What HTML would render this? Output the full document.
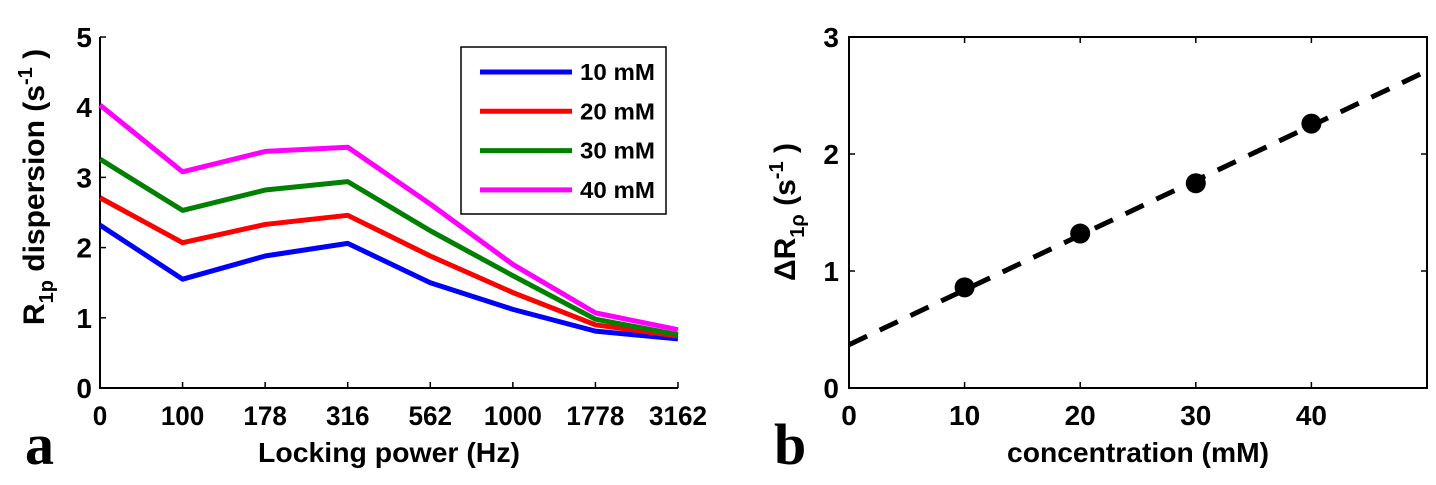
<!DOCTYPE html>
<html><head><meta charset="utf-8"><style>
html,body{margin:0;padding:0;background:#fff;width:1436px;height:485px;overflow:hidden}
svg text{font-family:"Liberation Sans",Arial,sans-serif;fill:#000}
</style></head><body>
<svg id="fig" width="1436" height="485" xmlns="http://www.w3.org/2000/svg">
<g id="pa"></g>
<g id="pb"></g>
</svg>
<script>
const catsA = ["0","100","178","316","562","1000","1778","3162"];
const s10 = [2.32,1.55,1.88,2.06,1.50,1.12,0.81,0.70];
const s20 = [2.71,2.07,2.33,2.46,1.88,1.36,0.90,0.74];
const s30 = [3.26,2.53,2.82,2.94,2.24,1.60,0.98,0.76];
const s40 = [4.03,3.08,3.37,3.43,2.62,1.76,1.07,0.83];
const seriesNames = ["10 mM","20 mM","30 mM","40 mM"];
const seriesColors = ["#0000ff","#ff0000","#008000","#ff00ff"];
const yTicksA = [0,1,2,3,4,5];
const concB = [10,20,30,40];
const dR = [0.86,1.32,1.75,2.26];
const fitX = [0,50];
const fitY = [0.37,2.71];
const xTicksB = [0,10,20,30,40];
const yTicksB = [0,1,2,3];

const NS="http://www.w3.org/2000/svg";
function mk(p,tag,at,txt){const e=document.createElementNS(NS,tag);for(const k in at)e.setAttribute(k,at[k]);if(txt!==undefined)e.textContent=txt;p.appendChild(e);return e;}

// Panel A
const pa=document.getElementById('pa');
const axL=100,axR=678,axB=388,axT=37;
const xa=i=>axL+i*(axR-axL)/(catsA.length-1);
const ya=v=>axB-v*(axB-axT)/5;
let e;
e=mk(pa,'path',{d:`M${axL},${axT}V${axB}H${axR}`,stroke:'#000','stroke-width':2,fill:'none'});


yTicksA.forEach(v=>{
 e=mk(pa,'line',{x1:axL,x2:axL+6,y1:ya(v),y2:ya(v),stroke:'#000','stroke-width':1.5});
 
 
 e=mk(pa,'text',{x:axL-8,y:ya(v)+10,'text-anchor':'end','font-size':28,'font-weight':'bold'},String(v));
 
 
});
catsA.forEach((c,i)=>{
 e=mk(pa,'line',{x1:xa(i),x2:xa(i),y1:axB,y2:axB-6,stroke:'#000','stroke-width':1.5});
 
 
 e=mk(pa,'text',{x:xa(i),y:425,'text-anchor':'middle','font-size':27,'font-weight':'bold',textLength:(c.length*14.5),lengthAdjust:'spacingAndGlyphs'},c);
 
 
});
[s10,s20,s30,s40].forEach((s,k)=>{
 e=mk(pa,'polyline',{points:s.map((v,i)=>xa(i)+','+ya(v)).join(' '),fill:'none',stroke:seriesColors[k],'stroke-width':5,'stroke-linejoin':'round'});
 
 
});
e=mk(pa,'rect',{x:461,y:47,width:205,height:167,fill:'#fff',stroke:'#000','stroke-width':1.5});


seriesNames.forEach((n,k)=>{
 const yy=72+k*39.3;
 e=mk(pa,'line',{x1:480,x2:572,y1:yy,y2:yy,stroke:seriesColors[k],'stroke-width':5});
 
 
 e=mk(pa,'text',{x:580,y:yy+8,'font-size':23,'font-weight':'bold',textLength:75,lengthAdjust:'spacingAndGlyphs'},n);
 
 
});
e=mk(pa,'text',{x:389,y:462,'text-anchor':'middle','font-size':28,'font-weight':'bold',textLength:262,lengthAdjust:'spacingAndGlyphs'},'Locking power (Hz)');


e=mk(pa,'text',{transform:'translate(44,187) rotate(-90)','text-anchor':'middle','font-size':30,'font-weight':'bold'});
e.innerHTML='R<tspan font-size="20" dy="9">1p</tspan><tspan dy="-9"> dispersion (s</tspan><tspan font-size="20" dy="-12">-1</tspan><tspan dy="12"> )</tspan>';


e=mk(pa,'text',{x:25,y:464,'font-size':58,'font-weight':'bold',style:'font-family:"Liberation Serif",serif'},'a');



// Panel B
const pb=document.getElementById('pb');
const bL=849,bR=1427,bB=388,bT=37;
const xb=v=>bL+v*(bR-bL)/50;
const yb=v=>bB-v*(bB-bT)/3;
e=mk(pb,'rect',{x:bL,y:bT,width:bR-bL,height:bB-bT,fill:'none',stroke:'#000','stroke-width':2});


xTicksB.forEach(v=>{
 e=mk(pb,'path',{d:`M${xb(v)},${bB}v-6M${xb(v)},${bT}v6`,stroke:'#000','stroke-width':1.5});
 
 
 e=mk(pb,'text',{x:xb(v),y:425,'text-anchor':'middle','font-size':28,'font-weight':'bold'},String(v));
 
 
});
yTicksB.forEach(v=>{
 e=mk(pb,'path',{d:`M${bL},${yb(v)}h6M${bR},${yb(v)}h-6`,stroke:'#000','stroke-width':1.5});
 
 
 e=mk(pb,'text',{x:bL-10,y:yb(v)+10,'text-anchor':'end','font-size':28,'font-weight':'bold'},String(v));
 
 
});
e=mk(pb,'line',{x1:xb(fitX[0]),y1:yb(fitY[0]),x2:xb(fitX[1]),y2:yb(fitY[1]),stroke:'#000','stroke-width':5,'stroke-dasharray':'20,14'});


concB.forEach((c,i)=>{
 e=mk(pb,'circle',{cx:xb(c),cy:yb(dR[i]),r:10,fill:'#000'});
 
 
});
e=mk(pb,'text',{x:1138,y:462,'text-anchor':'middle','font-size':28,'font-weight':'bold',textLength:262,lengthAdjust:'spacingAndGlyphs'},'concentration (mM)');


e=mk(pb,'text',{transform:'translate(795,212) rotate(-90)','text-anchor':'middle','font-size':30,'font-weight':'bold'});
e.innerHTML='ΔR<tspan font-size="20" dy="9">1ρ</tspan><tspan dy="-9"> (s</tspan><tspan font-size="20" dy="-12">-1</tspan><tspan dy="12"> )</tspan>';


e=mk(pb,'text',{x:774,y:464,'font-size':58,'font-weight':'bold',style:'font-family:"Liberation Serif",serif'},'b');


</script>
</body></html>
